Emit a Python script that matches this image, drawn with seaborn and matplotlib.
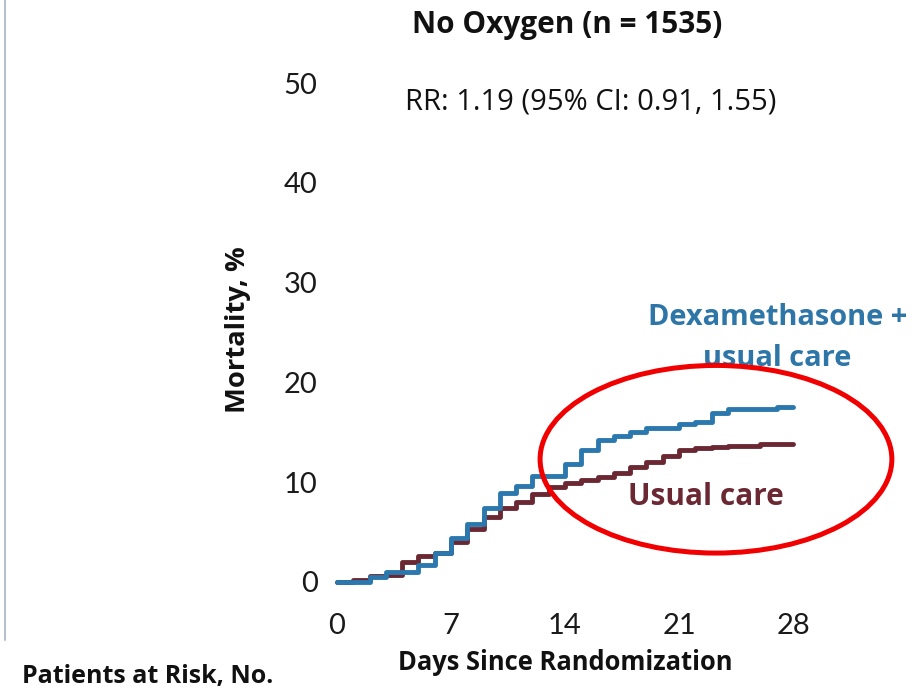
import numpy as np
import pandas as pd
import seaborn as sns
import matplotlib.pyplot as plt
from matplotlib.patches import Ellipse
from matplotlib.lines import Line2D

# Data: cumulative mortality (%) by day
days = list(range(0, 29))
dexa_mortality = [0, 0, 0.5, 1.0, 1.0, 1.7, 2.9, 4.4, 5.8, 7.4, 8.9, 9.6, 10.6, 10.6, 11.8,
                  13.2, 14.2, 14.6, 15.0, 15.4, 15.4, 15.8, 16.0, 16.9, 17.3, 17.3, 17.3, 17.5, 17.5]
usual_mortality = [0, 0.2, 0.6, 0.7, 2.0, 2.6, 2.9, 4.0, 5.3, 6.5, 7.4, 8.0, 8.8, 9.5, 9.9,
                   10.2, 10.5, 10.9, 11.5, 12.0, 12.6, 13.2, 13.4, 13.5, 13.6, 13.6, 13.8, 13.8, 13.8]
groups = ["Dexamethasone + usual care", "Usual care"]
x_ticks = [0, 7, 14, 21, 28]
y_ticks = [0, 10, 20, 30, 40, 50]

blue = "#2a78ad"
maroon = "#6b2833"

df = pd.DataFrame({
    "day": days + days,
    "mortality": dexa_mortality + usual_mortality,
    "group": [groups[0]] * len(days) + [groups[1]] * len(days),
})

sns.set_theme(style="white")
plt.rcParams["font.family"] = ["Open Sans", "DejaVu Sans"]

fig = plt.figure(figsize=(9.2, 6.9), dpi=100)
# axes placed so day 0..28 spans x 337..793 px and 0..50 spans y 582..83 px
ax = fig.add_axes([337 / 920, 108 / 690, 456 / 920, 499 / 690])

sns.lineplot(data=df, x="day", y="mortality", hue="group", hue_order=groups[::-1],
             palette={groups[0]: blue, groups[1]: maroon}, drawstyle="steps-post",
             linewidth=3.5, legend=False, ax=ax, clip_on=False)

ax.set_xlim(0, 28)
ax.set_ylim(0, 50)
ax.set_xticks(x_ticks)
ax.set_yticks(y_ticks)
ax.set_xticklabels([str(t) for t in x_ticks], fontsize=21, color="#1a1a1a", family="Lato")
ax.set_yticklabels([str(t) for t in y_ticks], fontsize=21, color="#1a1a1a", family="Lato")
ax.tick_params(axis="x", length=0, pad=22)
ax.tick_params(axis="y", length=0, pad=14)
ax.set_xlabel("")
ax.set_ylabel("")
sns.despine(ax=ax, left=True, bottom=True)

# curve labels
ax.text(27.05, 26.5, "Dexamethasone +", color="#2e76a8", fontsize=20.9,
        fontweight="bold", ha="center", va="center", clip_on=False)
ax.text(27.05, 22.4, "usual care", color="#2e76a8", fontsize=20.9,
        fontweight="bold", ha="center", va="center", clip_on=False)
ax.text(22.66, 8.5, "Usual care", color=maroon, fontsize=21.4,
        fontweight="bold", ha="center", va="center", clip_on=False)

# red highlight ellipse
ax.add_patch(Ellipse((23.27, 12.3), 21.6, 18.8, fill=False, edgecolor="#f00000",
                     linewidth=3.6, clip_on=False, zorder=5))

# titles and axis labels
fig.text(567 / 920, 1 - 25 / 690, "No Oxygen (n = 1535)", fontsize=21.4, fontweight="bold",
         ha="center", va="center", color="#111111")
fig.text(591 / 920, 1 - 102 / 690, "RR: 1.19 (95% CI: 0.91, 1.55)", fontsize=21,
         ha="center", va="center", color="#111111")
fig.text(565 / 920, 1 - 662 / 690, "Days Since Randomization", fontsize=18.4,
         fontweight="bold", ha="center", va="center", color="#111111")
fig.text(238 / 920, 1 - 330 / 690, "Mortality, %", fontsize=19.7, fontweight="bold",
         rotation=90, ha="center", va="center", color="#111111")
fig.text(22 / 920, 1 - 676 / 690, "Patients at Risk, No.", fontsize=18, fontweight="bold",
         ha="left", va="center", color="#111111")

# thin slide border on the left
fig.add_artist(Line2D([5 / 920, 5 / 920], [1 - 640 / 690, 1.0], color="#b8bfcc",
                      linewidth=1.5, transform=fig.transFigure))

plt.savefig("out.png", dpi=100)
